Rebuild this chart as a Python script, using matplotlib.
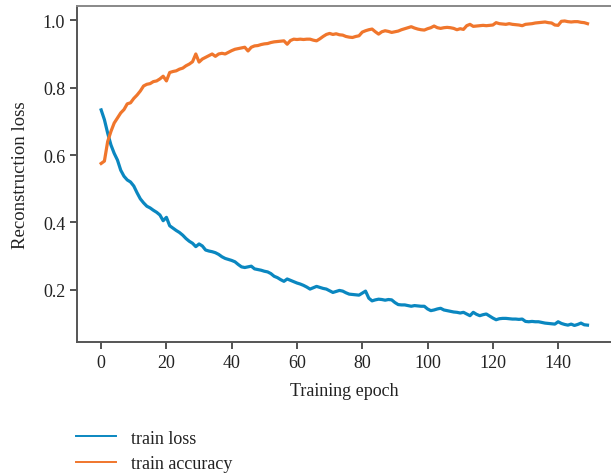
import matplotlib
matplotlib.use("Agg")
import matplotlib.pyplot as plt

plt.rcParams["font.family"] = ["Liberation Serif", "DejaVu Serif"]

# epochs 0..149, values
epochs = list(range(150))
train_loss = [
    0.734, 0.705, 0.665, 0.630, 0.605, 0.585, 0.555, 0.537, 0.526, 0.520,
    0.508, 0.488, 0.470, 0.458, 0.448, 0.443, 0.436, 0.430, 0.422, 0.405,
    0.415, 0.390, 0.383, 0.376, 0.370, 0.362, 0.352, 0.344, 0.338, 0.328,
    0.336, 0.330, 0.318, 0.315, 0.313, 0.310, 0.305, 0.298, 0.293, 0.290,
    0.287, 0.283, 0.275, 0.268, 0.266, 0.268, 0.270, 0.262, 0.260, 0.258,
    0.255, 0.253, 0.248, 0.240, 0.236, 0.230, 0.225, 0.232, 0.228, 0.224,
    0.220, 0.217, 0.213, 0.208, 0.202, 0.206, 0.210, 0.207, 0.204, 0.202,
    0.197, 0.192, 0.195, 0.198, 0.196, 0.191, 0.187, 0.186, 0.185, 0.184,
    0.190, 0.196, 0.175, 0.167, 0.170, 0.172, 0.171, 0.169, 0.171, 0.170,
    0.162, 0.156, 0.155, 0.155, 0.153, 0.151, 0.153, 0.152, 0.151, 0.151,
    0.143, 0.138, 0.140, 0.143, 0.145, 0.140, 0.138, 0.136, 0.134, 0.133,
    0.131, 0.133, 0.128, 0.123, 0.133, 0.127, 0.123, 0.126, 0.128, 0.122,
    0.116, 0.111, 0.114, 0.115, 0.115, 0.114, 0.113, 0.113, 0.112, 0.113,
    0.106, 0.105, 0.106, 0.105, 0.105, 0.103, 0.101, 0.100, 0.099, 0.098,
    0.105, 0.100, 0.097, 0.095, 0.098, 0.094, 0.097, 0.101, 0.096, 0.095,
]
train_acc = [
    0.575, 0.582, 0.640, 0.670, 0.695, 0.710, 0.725, 0.735, 0.752, 0.755,
    0.768, 0.778, 0.790, 0.805, 0.810, 0.812, 0.818, 0.820, 0.826, 0.834,
    0.820, 0.845, 0.848, 0.850, 0.855, 0.858, 0.865, 0.870, 0.877, 0.900,
    0.876, 0.885, 0.890, 0.895, 0.900, 0.893, 0.900, 0.902, 0.900, 0.905,
    0.910, 0.914, 0.916, 0.918, 0.920, 0.909, 0.920, 0.924, 0.925, 0.928,
    0.930, 0.931, 0.934, 0.936, 0.937, 0.938, 0.939, 0.929, 0.940, 0.944,
    0.943, 0.944, 0.943, 0.944, 0.944, 0.941, 0.939, 0.945, 0.952, 0.958,
    0.961, 0.958, 0.960, 0.957, 0.956, 0.952, 0.950, 0.949, 0.952, 0.954,
    0.965, 0.969, 0.972, 0.974, 0.966, 0.959, 0.966, 0.969, 0.967, 0.964,
    0.966, 0.968, 0.972, 0.975, 0.978, 0.981, 0.977, 0.974, 0.972, 0.971,
    0.975, 0.978, 0.983, 0.978, 0.976, 0.978, 0.979, 0.978, 0.976, 0.972,
    0.975, 0.973, 0.984, 0.988, 0.982, 0.983, 0.984, 0.985, 0.984, 0.985,
    0.986, 0.993, 0.990, 0.989, 0.988, 0.990, 0.988, 0.987, 0.986, 0.984,
    0.988, 0.989, 0.990, 0.992, 0.993, 0.994, 0.995, 0.993, 0.992, 0.986,
    0.985, 0.997, 0.998, 0.996, 0.995, 0.996, 0.996, 0.994, 0.993, 0.990,
]
xticks = [0, 20, 40, 60, 80, 100, 120, 140]
yticks = [0.2, 0.4, 0.6, 0.8, 1.0]

fig = plt.figure(figsize=(6.11, 4.77), dpi=100)
ax = fig.add_axes([0.126, 0.281, 0.874, 0.704])

l1, = ax.plot(epochs, train_loss, color="#0a87c0", lw=2.3, label="train loss")
l2, = ax.plot(epochs, train_acc, color="#f0762c", lw=2.3, label="train accuracy")

ax.set_xlim(-7.4, 156.2)
ax.set_ylim(0.045, 1.042)
ax.set_xticks(xticks)
ax.set_yticks(yticks)
ax.set_yticklabels([f"{v:.1f}" for v in yticks])
ax.tick_params(labelsize=13, length=5, width=1.3, color="#444", labelcolor="#222")
for s in ["left", "bottom", "top"]:
    ax.spines[s].set_color("#555")
    ax.spines[s].set_linewidth(1.4)
ax.spines["top"].set_color("#888")
ax.spines["right"].set_visible(False)

ax.set_xlabel("Training epoch", fontsize=13, color="#222", labelpad=8)
ax.set_ylabel("Reconstruction loss", fontsize=13.5, color="#222", labelpad=10)

leg = fig.legend(handles=[l1, l2], loc="upper left", bbox_to_anchor=(0.125, 0.097),
                 frameon=False, fontsize=13, handlelength=2.2, handletextpad=0.8,
                 labelspacing=0.45, borderpad=0, borderaxespad=0)
for h in leg.legend_handles:
    h.set_linewidth(1.4)
for t in leg.get_texts():
    t.set_color("#222")

fig.savefig("out.png", dpi=100)
